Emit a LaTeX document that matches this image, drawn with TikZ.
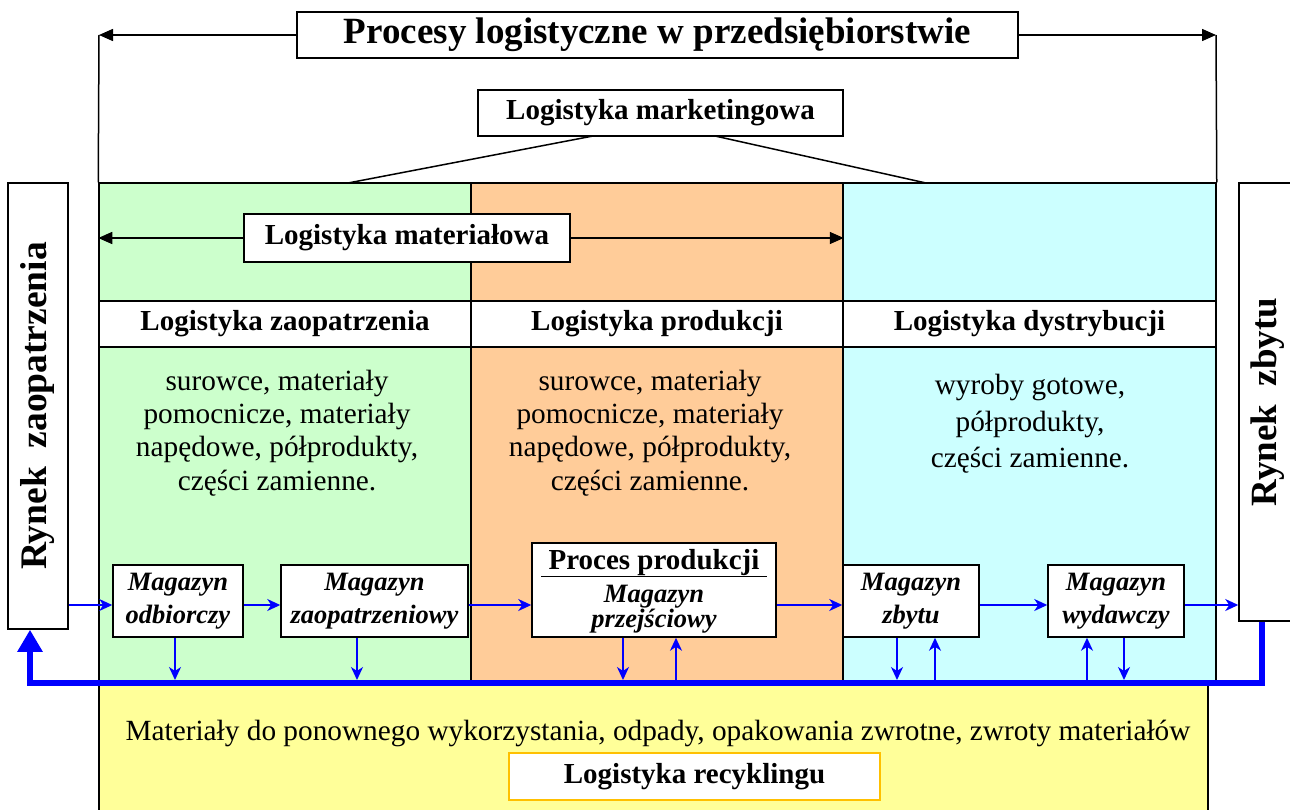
\documentclass[tikz,border=0pt]{standalone}
\usepackage{fontspec}
\setmainfont{Liberation Serif}
\usetikzlibrary{arrows.meta}
\definecolor{cgreen}{HTML}{CCFFCC}
\definecolor{corange}{HTML}{FFCC99}
\definecolor{ccyan}{HTML}{CCFFFF}
\definecolor{cyellow}{HTML}{FFFF99}
\definecolor{cgold}{HTML}{FFC000}
\definecolor{cblue}{HTML}{0000FF}
\newcommand{\fsz}[2]{\fontsize{#1}{#2}\selectfont}
\begin{document}
\begin{tikzpicture}[x=1pt,y=-1pt,
  box/.style={draw, fill=white, line width=1.5pt, inner sep=0pt, align=center},
  colbox/.style={draw, line width=1.5pt, inner sep=0pt},
  hdr/.style={box, font=\fsz{29}{33}\bfseries},
  mag/.style={box, font=\fsz{26.5}{33}\bfseries\itshape},
  body/.style={align=center, inner sep=0pt, font=\fsz{29.3}{33.3}},
  blk/.style={line width=1.5pt},
  blkarrow/.style={blk, -{Triangle[length=14pt,width=12pt]}},
  flow/.style={cblue, line width=1.8pt, -{Stealth[length=13pt,width=12pt,inset=4pt]}},
  bus/.style={cblue, line width=6pt, -{Triangle[length=22pt,width=24pt]}},
]
\useasboundingbox (0,0) rectangle (1290,809);
\fill[white] (0,0) rectangle (1290,809);

% recycling area
\node[colbox, fill=cyellow, minimum width=1109pt, minimum height=140pt] (yel) at (653.5,753) {};
% columns
\node[colbox, fill=cgreen, minimum width=372pt, minimum height=500pt] (cz) at (285,433) {};
\node[colbox, fill=corange, minimum width=372pt, minimum height=500pt] (cp) at (657,433) {};
\node[colbox, fill=ccyan, minimum width=373pt, minimum height=500pt] (cd) at (1029.5,433) {};
% header row
\node[hdr, minimum width=372pt, minimum height=46pt] (hz) at (285,324) {Logistyka zaopatrzenia};
\node[hdr, minimum width=372pt, minimum height=46pt] (hp) at (657,324) {Logistyka produkcji};
\node[hdr, minimum width=373pt, minimum height=46pt] (hd) at (1029.5,324) {Logistyka dystrybucji};

% title
\node[box, font=\fsz{37}{40}\bfseries, minimum width=721pt, minimum height=46pt] (title) at (657.5,35) {Procesy logistyczne w przedsiębiorstwie};
\coordinate (tl) at (99,35);
\coordinate (tr) at (1216,35);
\draw[blkarrow] (title.west) -- (tl);
\draw[blkarrow] (title.east) -- (tr);
\draw[blk] (tl) -- (cz.north west);
\draw[blk] (tr) -- (cd.north east);

% marketing
\node[hdr, minimum width=365pt, minimum height=46pt] (mkt) at (660.5,113) {Logistyka marketingowa};
\coordinate (m1a) at (593,136);
\coordinate (m1b) at (348,183);
\coordinate (m2a) at (715,136);
\coordinate (m2b) at (926,183);
\draw[blk] (m1a) -- (m1b);
\draw[blk] (m2a) -- (m2b);

% material logistics
\node[hdr, minimum width=326pt, minimum height=48pt] (mat) at (407,238) {Logistyka materiałowa};
\draw[blkarrow] (mat.west) -- (cz.west |- mat.west);
\draw[blkarrow] (mat.east) -- (cp.east |- mat.east);

% body texts
\node[body] (tz) at (277,433) {surowce, materiały\\pomocnicze, materiały\\napędowe, półprodukty,\\części zamienne.};
\node[body] (tp) at (650,433) {surowce, materiały\\pomocnicze, materiały\\napędowe, półprodukty,\\części zamienne.};
\node[body, font=\fsz{29.3}{36.7}] (td) at (1030,424) {wyroby gotowe,\\półprodukty,\\części zamienne.};

% markets
\node[box, rotate=90, font=\fsz{37.5}{40}\bfseries, minimum width=446pt, minimum height=60pt] (rza) at (38,406) {Rynek\ \ zaopatrzenia};
\node[box, rotate=90, font=\fsz{37}{40}\bfseries, minimum width=438pt, minimum height=58pt] (rzb) at (1268,402) {Rynek\ \ zbytu};

% warehouses
\node[mag, minimum width=130pt, minimum height=72pt] (odb) at (178,601) {Magazyn\\odbiorczy};
\node[mag, minimum width=187pt, minimum height=72pt] (zap) at (374.5,601) {Magazyn\\zaopatrzeniowy};
\node[box, minimum width=244pt, minimum height=94pt] (proc) at (654,590) {};
\node[anchor=base, inner sep=0pt, font=\fsz{29}{33}\bfseries] (proct) at (654,569) {\underline{\ Proces produkcji\ }};
\node[anchor=base, inner sep=0pt, font=\fsz{26.5}{33}\bfseries\itshape] (procm) at (654,602) {Magazyn};
\node[anchor=base, inner sep=0pt, font=\fsz{26.5}{33}\bfseries\itshape] (procp) at (654,627) {przejściowy};
\node[mag, minimum width=136pt, minimum height=72pt] (zby) at (911,601) {Magazyn\\zbytu};
\node[mag, minimum width=136pt, minimum height=72pt] (wyd) at (1116,601) {Magazyn\\wydawczy};

% recycling
\node[box, draw=cgold, font=\fsz{29}{33}\bfseries, minimum width=371pt, minimum height=47pt] (rec) at (694.5,776.5) {Logistyka recyklingu};
\node[body] (trec) at (658,733) {Materiały do ponownego wykorzystania, odpady, opakowania zwrotne, zwroty materiałów};

% main flow
\coordinate (fy) at (0,605);
\draw[flow] (rza.south |- fy) -- (odb.west |- fy);
\draw[flow] (odb.east |- fy) -- (zap.west |- fy);
\draw[flow] (zap.east |- fy) -- (proc.west |- fy);
\draw[flow] (proc.east |- fy) -- (zby.west |- fy);
\draw[flow] (zby.east |- fy) -- (wyd.west |- fy);
\draw[flow] (wyd.east |- fy) -- (rzb.north |- fy);

% returns bus
\coordinate (busR) at (1262,683);
\coordinate (busL) at (30,683);
\coordinate (b1) at (175,680);
\coordinate (b2) at (357,680);
\coordinate (b3) at (623,680);
\coordinate (b4) at (676,680);
\coordinate (b5) at (897,680);
\coordinate (b6) at (935,680);
\coordinate (b7) at (1087,680);
\coordinate (b8) at (1124,680);
\draw[flow] (odb.south -| b1) -- (b1);
\draw[flow] (zap.south -| b2) -- (b2);
\draw[flow] (proc.south -| b3) -- (b3);
\draw[flow] (b4) -- (proc.south -| b4);
\draw[flow] (zby.south -| b5) -- (b5);
\draw[flow] (b6) -- (zby.south -| b6);
\draw[flow] (b7) -- (wyd.south -| b7);
\draw[flow] (wyd.south -| b8) -- (b8);
\draw[bus] (rzb.west -| busR) -- (busR) -- (busL) -- (rza.west -| busL);
\end{tikzpicture}
\end{document}
